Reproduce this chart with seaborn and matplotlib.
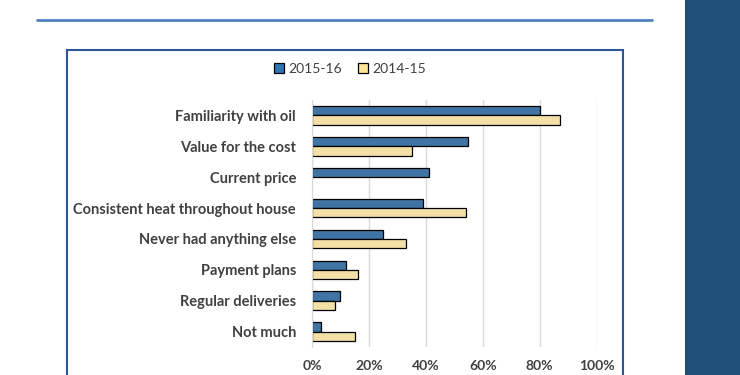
import pandas as pd
import numpy as np
import seaborn as sns
import matplotlib.pyplot as plt
from matplotlib.patches import Rectangle
from matplotlib.lines import Line2D
from matplotlib.ticker import PercentFormatter

# Data
categories = ["Familiarity with oil", "Value for the cost", "Current price",
              "Consistent heat throughout house", "Never had anything else",
              "Payment plans", "Regular deliveries", "Not much"]
y2016 = [80, 55, 41, 39, 25, 12, 10, 3]
y2015 = [87, 35, np.nan, 54, 33, 16, 8, 15]
series = ["2015-16", "2014-15"]

#Palettes
BarPalette = ["#2e75b6", "#ffe699"]
TextColor = "#404040"

sns.set_style("white")
plt.rcParams['font.family'] = ['Lato', 'DejaVu Sans']

df = pd.DataFrame({
    "reason": categories * 2,
    "pct": y2016 + y2015,
    "year": [series[0]] * len(categories) + [series[1]] * len(categories),
}).dropna()

fig = plt.figure(figsize=(7.4, 3.75), dpi=100)
ax = fig.add_axes([312 / 740, 1 - 347 / 375, 284.5 / 740, 247 / 375])

sns.barplot(data=df, y="reason", x="pct", hue="year", order=categories,
            hue_order=series, palette=BarPalette, width=0.6, orient="h",
            edgecolor="black", linewidth=0.9, ax=ax)

ax.set_xlim(0, 100)
ax.set_ylim(7.5, -0.5)
ax.set_xticks(range(0, 101, 20))
ax.xaxis.set_major_formatter(PercentFormatter(decimals=0))
ax.grid(axis="x", color="#d9d9d9", linewidth=1)
ax.set_axisbelow(True)
for s in ["top", "right", "bottom"]:
    ax.spines[s].set_visible(False)
ax.spines["left"].set_color("#d9d9d9")
ax.set_xlabel("")
ax.set_ylabel("")
ax.tick_params(axis="both", length=0, labelcolor=TextColor)
ax.tick_params(axis="y", pad=11.5)
ax.tick_params(axis="x", pad=9)
for lbl in ax.get_yticklabels():
    lbl.set_fontweight("bold")
    lbl.set_fontsize(10.5)
for lbl in ax.get_xticklabels():
    lbl.set_fontweight("bold")
    lbl.set_fontsize(10)

ax.legend_.remove()
handles = [Rectangle((0, 0), 1, 1, facecolor=c, edgecolor="black", linewidth=0.9) for c in BarPalette]
leg = fig.legend(handles, series, loc="center", bbox_to_anchor=(350 / 740, 1 - 69 / 375),
                 ncol=2, frameon=False, handlelength=0.7, handleheight=0.7,
                 handletextpad=0.3, columnspacing=1.2, fontsize=10)
for t in leg.get_texts():
    t.set_color(TextColor)

# page decoration
fig.add_artist(Rectangle((67 / 740, -0.05), (623 - 67) / 740, 1 - 50 / 375 + 0.05,
                         transform=fig.transFigure, fill=False, edgecolor="#2f5597", linewidth=1.5))
fig.add_artist(Line2D([37 / 740, 652 / 740], [1 - 20 / 375, 1 - 20 / 375],
                      transform=fig.transFigure, color="#4f81bd", linewidth=2))
fig.add_artist(Rectangle((685 / 740, 0), 55 / 740, 1, transform=fig.transFigure,
                         facecolor="#1f4e79", edgecolor="none"))

fig.savefig("out.png", dpi=100, facecolor="white")
